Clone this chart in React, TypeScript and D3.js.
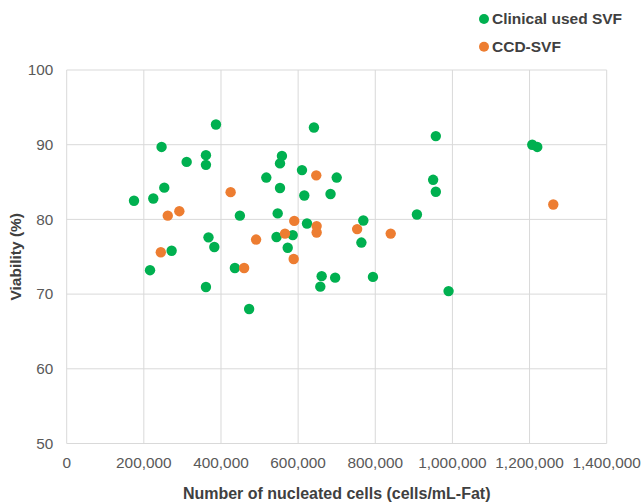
import React from "react";
import * as d3 from "d3";

const clinicalX = [174500, 216000, 224500, 246000, 253000, 272000, 311000, 361000, 361000, 361000, 367600, 382700, 387000, 436000, 449000, 473000, 517500, 547000, 544000, 553000, 558000, 553000, 573000, 586000, 610000, 616000, 623000, 641000, 661000, 657500, 684000, 700000, 696000, 764000, 769000, 794000, 908000, 950000, 957000, 957000, 990000, 1207000, 1220000];
const clinicalY = [82.5, 73.2, 82.8, 89.7, 84.25, 75.8, 87.7, 88.6, 87.3, 70.95, 77.6, 76.3, 92.7, 73.5, 80.5, 68.0, 85.6, 80.8, 77.65, 84.2, 88.5, 87.5, 76.2, 77.9, 86.6, 83.2, 79.45, 92.3, 72.4, 71.0, 83.4, 85.6, 72.2, 76.9, 79.85, 72.3, 80.65, 85.3, 83.7, 91.15, 70.4, 90.0, 89.7];

const ccdX = [244000, 262000, 292000, 425000, 460000, 491000, 566000, 590000, 588500, 647000, 648000, 648000, 753000, 840000, 1261500];
const ccdY = [75.6, 80.5, 81.1, 83.65, 73.5, 77.3, 78.1, 79.8, 74.7, 85.9, 79.1, 78.25, 78.7, 78.1, 82.0];

const xTicks = [0, 200000, 400000, 600000, 800000, 1000000, 1200000, 1400000];
const yTicks = [50, 60, 70, 80, 90, 100];

const seriesNames = ["Clinical used SVF", "CCD-SVF"];
const seriesColors = ["#00b050", "#ed7d31"];

const W = 644;
const H = 503;
const left = 66.7;
const right = 606.7;
const top = 70;
const bottom = 443.5;
const FONT = "'Liberation Sans', Arial, sans-serif";

export default function App() {
  const x = d3.scaleLinear().domain([0, 1400000]).range([left, right]);
  const y = d3.scaleLinear().domain([50, 100]).range([bottom, top]);
  const fmt = d3.format(",");

  const series = [
    { name: seriesNames[0], color: seriesColors[0], xs: clinicalX, ys: clinicalY },
    { name: seriesNames[1], color: seriesColors[1], xs: ccdX, ys: ccdY },
  ];

  return (
    <svg width={W} height={H} style={{ position: "absolute", left: 0, top: 0, background: "#fff" }} fontFamily={FONT}>
      <rect x={0} y={0} width={W} height={H} fill="#fff" />
      {yTicks.map((t) => (
        <line key={"gy" + t} x1={left} x2={right} y1={y(t)} y2={y(t)} stroke="#d9d9d9" strokeWidth={1} />
      ))}
      {xTicks.map((t) => (
        <line key={"gx" + t} x1={x(t)} x2={x(t)} y1={top} y2={bottom} stroke="#d9d9d9" strokeWidth={1} />
      ))}
      {yTicks.map((t) => (
        <text key={"ty" + t} x={left - 13.5} y={y(t)} dy="0.35em" textAnchor="end" fontSize={15.3} fill="#595959">
          {t}
        </text>
      ))}
      {xTicks.map((t) => (
        <text key={"tx" + t} x={x(t)} y={bottom + 19} dy="0.35em" textAnchor="middle" fontSize={15.4} fill="#595959">
          {fmt(t)}
        </text>
      ))}
      <text x={(left + right) / 2} y={493} dy="0.35em" textAnchor="middle" fontSize={16} fontWeight="bold" fill="#404040">
        Number of nucleated cells (cells/mL-Fat)
      </text>
      <text
        transform={`translate(15.5,${(top + bottom) / 2}) rotate(-90)`}
        dy="0.35em"
        textAnchor="middle"
        fontSize={15.5}
        fontWeight="bold"
        fill="#404040"
      >
        Viability (%)
      </text>
      {series.map((s) =>
        s.xs.map((v, i) => (
          <circle key={s.name + i} cx={x(v)} cy={y(s.ys[i])} r={5.2} fill={s.color} />
        ))
      )}
      {series.map((s, i) => (
        <g key={"lg" + i} transform={`translate(484,${19 + i * 27.7})`}>
          <circle cx={0} cy={0} r={5} fill={s.color} />
          <text x={8} y={0} dy="0.35em" fontSize={15.5} fontWeight="bold" fill="#404040">
            {s.name}
          </text>
        </g>
      ))}
    </svg>
  );
}
